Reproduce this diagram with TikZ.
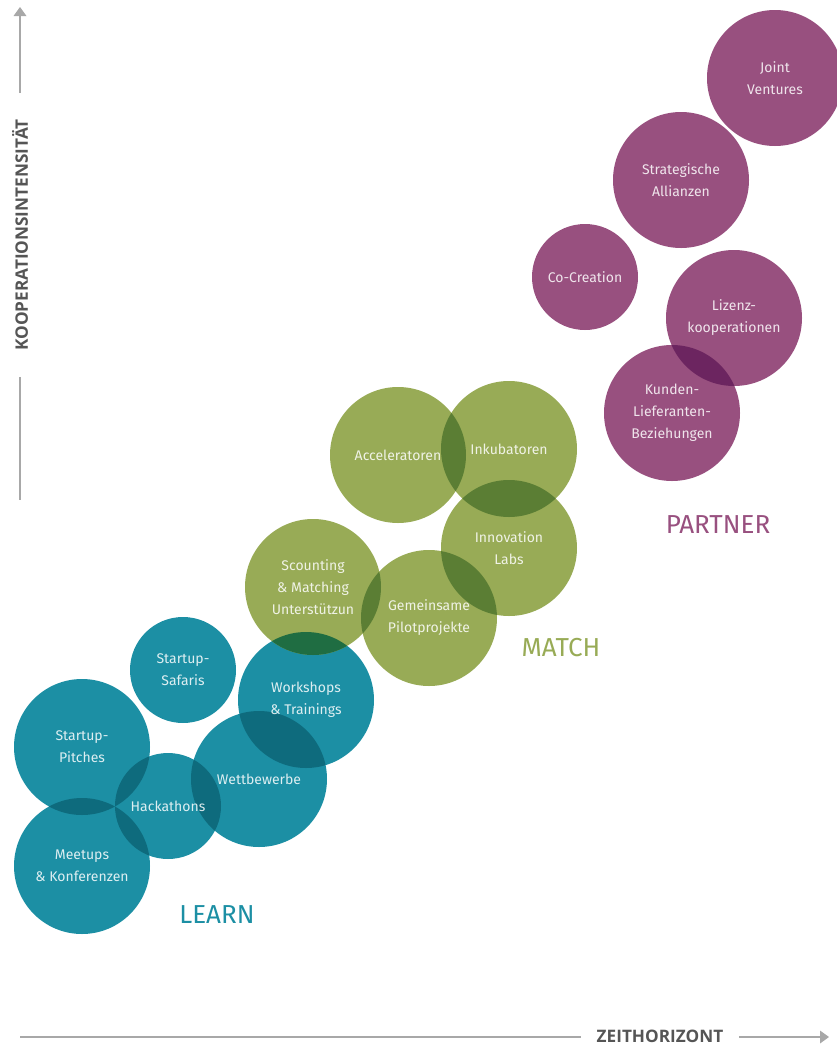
\documentclass[tikz,border=0pt]{standalone}
\usepackage{fontspec}
\setmainfont{Fira Sans}
\newfontfamily\axisfont{Open Sans}
\usetikzlibrary{arrows.meta}
\pgfdeclarelayer{disks}
\pgfdeclarelayer{lenses}
\pgfsetlayers{disks,lenses,main}
\definecolor{learn}{HTML}{1C8FA4}
\definecolor{learndark}{HTML}{0E6B7D}
\definecolor{match}{HTML}{98AB56}
\definecolor{matchdark}{HTML}{5B7E34}
\definecolor{partner}{HTML}{98507F}
\definecolor{partnerdark}{HTML}{6C2560}
\definecolor{mixdark}{HTML}{1F6D42}
\definecolor{axisgray}{HTML}{A8A8A8}
\definecolor{axistext}{HTML}{555555}
% fill the circle of a node, and the part of one circle lying in another
\newcommand{\disk}[3]{\fill[#3] (#1.center) circle[radius=#2pt];}
\newcommand{\lens}[5]{\begin{scope}
  \clip (#1.center) circle[radius=#2pt];
  \disk{#3}{#4}{#5}
\end{scope}}

\begin{document}
\begin{tikzpicture}[x=1pt,y=-1pt,
    disc/.style={circle,minimum size=136pt,inner sep=0pt,outer sep=0pt,align=center,
      text=white,text opacity=0.85,font=\fontsize{14}{22}\selectfont},
    small/.style={disc,minimum size=106pt},
    group/.style={font=\fontsize{26}{30}\selectfont},
    axislabel/.style={inner ysep=0pt,text=axistext,font=\axisfont\fontsize{17.2}{20}\selectfont\bfseries},
    axisline/.style={draw=axisgray,line width=2.5pt},
    axistip/.style={-{Triangle[length=9pt,width=13pt,fill=axisgray,line width=0pt]}}]
  \useasboundingbox (0,0) rectangle (837,1045);
  % LEARN
  \node[small] (c_safari)   at (183,670) {Startup-\\Safaris};
  \node[disc]  (c_workshop) at (306,700) {Workshops\\\& Trainings};
  \node[disc]  (c_pitch)    at (82,747)  {Startup-\\Pitches};
  \node[disc]  (c_wettb)    at (259,779) {Wettbewerbe};
  \node[small] (c_hack)     at (168,806) {Hackathons};
  \node[disc]  (c_meetup)   at (82,866)  {Meetups\\\& Konferenzen};
  \node[group,text=learn] (g_learn) at (217,915) {LEARN};
  % MATCH
  \node[disc] (c_accel)  at (398,455) {Acceleratoren};
  \node[disc] (c_inkub)  at (509,449) {Inkubatoren};
  \node[disc] (c_innov)  at (509,548) {Innovation\\Labs};
  \node[disc] (c_scout)  at (313,587) {Scounting\\\& Matching\\Unterstützun};
  \node[disc] (c_pilot)  at (429,618) {Gemeinsame\\Pilotprojekte};
  \node[group,text=match] (g_match) at (561,648) {MATCH};
  % PARTNER
  \node[disc]  (c_joint)  at (775,78)  {Joint\\Ventures};
  \node[disc]  (c_strat)  at (681,180) {Strategische\\Allianzen};
  \node[small] (c_cocrea) at (585,277) {Co-Creation};
  \node[disc]  (c_lizenz) at (734,318) {Lizenz-\\kooperationen};
  \node[disc]  (c_kunden) at (672,413) {Kunden-\\Lieferanten-\\Beziehungen};
  \node[group,text=partner] (g_partner) at (718,525) {PARTNER};

  \begin{pgfonlayer}{disks}
    \foreach \n/\r in {c_safari/53,c_workshop/68,c_pitch/68,c_wettb/68,c_hack/53,c_meetup/68}
      {\disk{\n}{\r}{learn}}
    \foreach \n in {c_accel,c_inkub,c_innov,c_scout,c_pilot}
      {\disk{\n}{68}{match}}
    \foreach \n/\r in {c_joint/68,c_strat/68,c_cocrea/53,c_lizenz/68,c_kunden/68}
      {\disk{\n}{\r}{partner}}
  \end{pgfonlayer}
  \begin{pgfonlayer}{lenses}
    \lens{c_pitch}{68}{c_meetup}{68}{learndark}
    \lens{c_pitch}{68}{c_hack}{53}{learndark}
    \lens{c_meetup}{68}{c_hack}{53}{learndark}
    \lens{c_hack}{53}{c_wettb}{68}{learndark}
    \lens{c_wettb}{68}{c_workshop}{68}{learndark}
    \lens{c_accel}{68}{c_inkub}{68}{matchdark}
    \lens{c_inkub}{68}{c_innov}{68}{matchdark}
    \lens{c_innov}{68}{c_pilot}{68}{matchdark}
    \lens{c_scout}{68}{c_pilot}{68}{matchdark}
    \lens{c_scout}{68}{c_workshop}{68}{mixdark}
    \lens{c_lizenz}{68}{c_kunden}{68}{partnerdark}
  \end{pgfonlayer}

  % axes
  \coordinate (y_top) at (20,7);
  \coordinate (y_bot) at (20,500);
  \node[axislabel,rotate=90,inner xsep=26pt] (y_lab) at (20,235) {KOOPERATIONSINTENSITÄT};
  \coordinate (x_start) at (20,1037);
  \coordinate (x_end) at (829,1037);
  \node[axislabel,inner xsep=16pt] (x_lab) at (660,1036) {ZEITHORIZONT};
  \draw[axisline,axistip] (y_lab.east) -- (y_top);
  \draw[axisline] (y_lab.west) -- (y_bot);
  \draw[axisline] (x_lab.west |- x_start) -- (x_start);
  \draw[axisline,axistip] (x_lab.east |- x_end) -- (x_end);
\end{tikzpicture}
\end{document}
